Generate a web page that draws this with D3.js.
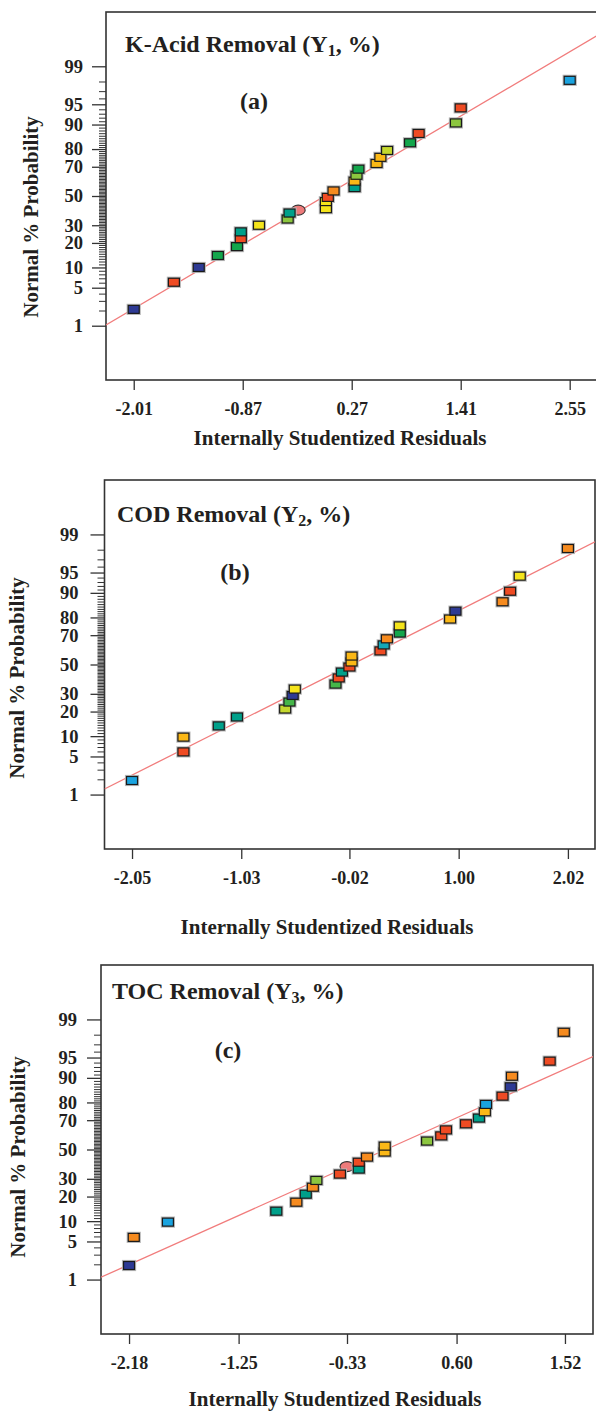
<!DOCTYPE html>
<html>
<head>
<meta charset="utf-8">
<script src="https://d3js.org/d3.v7.min.js"></script>
<style>
  body { margin: 0; background: #fff; }
  svg text { font-family: "Liberation Serif", "Times New Roman", serif; font-weight: bold; fill: #231f20; }
</style>
</head>
<body>
<svg id="chart" width="596" height="1412"></svg>
<script>
// labelled probability ticks (normal % probability axis)
const probTicks = [1, 5, 10, 20, 30, 50, 70, 80, 90, 95, 99];

// (a) K-Acid removal
const kacidTicks = [-2.01, -0.87, 0.27, 1.41, 2.55];
const kacidResid = [-2.01, -1.59, -1.33, -1.13, -0.93, -0.89, -0.89, -0.70, -0.40, -0.38, 0.00, 0.00, 0.02, 0.08, 0.30, 0.30, 0.32, 0.34, 0.53, 0.57, 0.64, 0.88, 0.97, 1.36, 1.41, 2.55];
const kacidProb = [2.1, 6.1, 10, 14.3, 18.2, 22.2, 26, 30, 34, 38, 41, 46, 49, 53.6, 56, 60.5, 64.5, 68.5, 72, 75.6, 79.3, 83, 86.9, 90.5, 94.3, 98.1];
const kacidLevel = ["navy", "red", "navy", "green", "green", "red", "teal", "yellow", "leaf", "teal", "yellow", "yellow", "red", "orange", "teal", "gold", "leaf", "green", "gold", "gold", "lime", "green", "red", "leaf", "red", "sky"];
const kacidCentre = [-0.29, 40];
const kacidFit = [1.01, 0.01];

// (b) COD removal
const codTicks = [-2.05, -1.03, -0.02, 1.00, 2.02];
const codResid = [-2.05, -1.57, -1.57, -1.24, -1.07, -0.62, -0.58, -0.55, -0.53, -0.15, -0.12, -0.09, -0.02, 0.00, 0.00, 0.27, 0.30, 0.33, 0.45, 0.45, 0.92, 0.97, 1.41, 1.48, 1.57, 2.02];
const codProb = [1.9, 5.9, 9.7, 13.6, 17.4, 21.3, 25.1, 29, 33, 36.3, 40.5, 44.6, 48.2, 51.8, 56, 59.6, 63.7, 67.7, 71.3, 75.5, 79.2, 83, 86.9, 90.5, 94.3, 98.1];
const codLevel = ["sky", "red", "gold", "teal", "teal", "lime", "grass", "navy", "yellow", "grass", "red", "teal", "red", "gold", "gold", "red", "cyan", "orange", "green", "yellow", "gold", "navy", "orange", "red", "yellow", "orange"];
const codFit = [0.965, 0.0];

// (c) TOC removal
const tocTicks = [-2.18, -1.25, -0.33, 0.60, 1.52];
const tocResid = [-2.18, -2.14, -1.85, -0.93, -0.76, -0.68, -0.62, -0.59, -0.39, -0.23, -0.23, -0.16, -0.01, -0.01, 0.35, 0.47, 0.51, 0.68, 0.79, 0.84, 0.85, 0.99, 1.06, 1.07, 1.39, 1.51];
const tocProb = [1.9, 5.8, 9.7, 13.5, 17.3, 21.2, 25, 29, 33, 36.3, 41, 44.6, 48.2, 52.4, 56, 59.6, 63.7, 67.7, 71.3, 75, 79, 83, 86.9, 90.5, 94.3, 98.2];
const tocLevel = ["navy", "orange", "sky", "teal", "orange", "teal", "orange", "leaf", "red", "teal", "red", "orange", "gold", "gold", "leaf", "red", "red", "red", "teal", "gold", "sky", "red", "navy", "orange", "red", "orange"];
const tocCentre = [-0.33, 38];
const tocFit = [0.945, 0.0];

const palette = {
  navy: "#2e3a94", red: "#ef4b23", green: "#14a64c", teal: "#00a08a",
  cyan: "#12a8b8", yellow: "#f5e41b", lime: "#c5d82e", leaf: "#8cc63f",
  grass: "#45b649", orange: "#f68b1f", gold: "#fbb816", sky: "#1aa3df"
};

// inverse normal CDF (Acklam) for the probability axis
function probit(p) {
  const a = [-3.969683028665376e+01, 2.209460984245205e+02, -2.759285104469687e+02, 1.383577518672690e+02, -3.066479806614716e+01, 2.506628277459239e+00];
  const b = [-5.447609879822406e+01, 1.615858368580409e+02, -1.556989798598866e+02, 6.680131188771972e+01, -1.328068155288572e+01];
  const c = [-7.784894002430293e-03, -3.223964580411365e-01, -2.400758277161838e+00, -2.549732539343734e+00, 4.374664141464968e+00, 2.938163982698783e+00];
  const d = [7.784695709041462e-03, 3.224671290700398e-01, 2.445134137142996e+00, 3.754408661907416e+00];
  const pl = 0.02425;
  let q, r;
  if (p < pl) {
    q = Math.sqrt(-2 * Math.log(p));
    return (((((c[0]*q+c[1])*q+c[2])*q+c[3])*q+c[4])*q+c[5]) / ((((d[0]*q+d[1])*q+d[2])*q+d[3])*q+1);
  }
  if (p <= 1 - pl) {
    q = p - 0.5; r = q * q;
    return (((((a[0]*r+a[1])*r+a[2])*r+a[3])*r+a[4])*r+a[5])*q / (((((b[0]*r+b[1])*r+b[2])*r+b[3])*r+b[4])*r+1);
  }
  q = Math.sqrt(-2 * Math.log(1 - p));
  return -(((((c[0]*q+c[1])*q+c[2])*q+c[3])*q+c[4])*q+c[5]) / ((((d[0]*q+d[1])*q+d[2])*q+d[3])*q+1);
}

const minorProb = d3.range(2, 99).filter(p => !probTicks.includes(p));
const fmt = d3.format(".2f");
const svg = d3.select("#chart");

function drawPanel(cfg) {
  const x = d3.scaleLinear().domain(cfg.xDomain).range([cfg.left, cfg.right]);
  const y = d3.scaleLinear().domain([-3.3, 3.3]).range([cfg.bottom, cfg.top]);
  const g = svg.append("g");

  const clipId = "clip-" + cfg.tag;
  svg.append("clipPath").attr("id", clipId)
    .append("rect")
    .attr("x", cfg.left).attr("y", cfg.top)
    .attr("width", cfg.right - cfg.left).attr("height", cfg.bottom - cfg.top);

  // minor probability ticks
  const minorAxis = d3.axisLeft(y)
    .tickValues(minorProb.map(p => probit(p / 100)))
    .tickSize(7).tickSizeOuter(0).tickFormat("");
  g.append("g").attr("transform", `translate(${cfg.left},0)`).call(minorAxis)
    .call(s => s.select(".domain").remove())
    .call(s => s.selectAll("line").attr("stroke", "#333"));

  // major probability ticks
  const yAxis = d3.axisLeft(y)
    .tickValues(probTicks.map(p => probit(p / 100)))
    .tickSize(14).tickSizeOuter(0).tickPadding(cfg.yPad)
    .tickFormat((d, i) => probTicks[i]);
  g.append("g").attr("transform", `translate(${cfg.left},0)`).call(yAxis)
    .call(s => s.select(".domain").remove())
    .call(s => s.selectAll("line").attr("stroke", "#333").attr("stroke-width", 1.3))
    .call(s => s.selectAll("text").attr("font-size", 18.5).attr("font-family", null));

  // residual axis (plain hyphen for negatives, as in the figure)
  const xAxis = d3.axisBottom(x)
    .tickValues(cfg.ticks).tickSize(10).tickSizeOuter(0).tickPadding(12)
    .tickFormat(d => fmt(d).replace("\u2212", "-"));
  g.append("g").attr("transform", `translate(0,${cfg.bottom})`).call(xAxis)
    .call(s => s.select(".domain").remove())
    .call(s => s.selectAll("line").attr("stroke", "#333").attr("stroke-width", 1.3))
    .call(s => s.selectAll("text").attr("font-size", 18).attr("font-family", null));

  // frame
  g.append("rect")
    .attr("x", cfg.left).attr("y", cfg.top)
    .attr("width", cfg.right - cfg.left).attr("height", cfg.bottom - cfg.top)
    .attr("fill", "none").attr("stroke", "#333").attr("stroke-width", 1.6);

  // fitted normal line
  const plot = g.append("g").attr("clip-path", `url(#${clipId})`);
  const ends = cfg.xDomain.map(v => [v, cfg.fit[0] * v + cfg.fit[1]]);
  plot.append("line")
    .attr("x1", x(ends[0][0])).attr("y1", y(ends[0][1]))
    .attr("x2", x(ends[1][0])).attr("y2", y(ends[1][1]))
    .attr("stroke", "#f17c7c").attr("stroke-width", 1.3);

  const pts = cfg.resid.map((r, i) => ({ r, p: cfg.prob[i], c: palette[cfg.level[i]] }));

  if (cfg.centre) {
    plot.append("ellipse")
      .attr("cx", x(cfg.centre[0])).attr("cy", y(probit(cfg.centre[1] / 100)))
      .attr("rx", 7).attr("ry", 5)
      .attr("fill", "#ee7b7b").attr("stroke", "#333").attr("stroke-width", 1.1);
  }

  const w = 11, h = 8;
  plot.selectAll(".halo").data(pts).join("rect").attr("class", "halo")
    .attr("x", d => x(d.r) - w / 2).attr("y", d => y(probit(d.p / 100)) - h / 2)
    .attr("width", w).attr("height", h)
    .attr("fill", "none").attr("stroke", "#b8b8b8").attr("stroke-width", 3.2);
  plot.selectAll(".pt").data(pts).join("rect").attr("class", "pt")
    .attr("x", d => x(d.r) - w / 2).attr("y", d => y(probit(d.p / 100)) - h / 2)
    .attr("width", w).attr("height", h)
    .attr("fill", d => d.c).attr("stroke", "#1a1a1a").attr("stroke-width", 1.2);

  // titles
  const t = g.append("text").attr("x", cfg.left + cfg.titleDx).attr("y", cfg.top + cfg.titleDy)
    .attr("font-size", 24);
  t.append("tspan").text(cfg.title + " (Y");
  t.append("tspan").attr("font-size", 16).attr("dy", 4).text(cfg.sub);
  t.append("tspan").attr("dy", -4).text(", %)");

  g.append("text").attr("x", cfg.tagX).attr("y", cfg.top + cfg.tagDy)
    .attr("text-anchor", "middle").attr("font-size", 24).text("(" + cfg.tag + ")");

  g.append("text").attr("x", cfg.xTitleX).attr("y", cfg.xTitleY)
    .attr("text-anchor", "middle").attr("font-size", 21)
    .text("Internally Studentized Residuals");

  g.append("text")
    .attr("transform", `translate(${cfg.yTitleX},${cfg.yTitleY}) rotate(-90)`)
    .attr("text-anchor", "middle").attr("font-size", 21)
    .text("Normal % Probability");
}

drawPanel({
  tag: "a", title: "K-Acid Removal", sub: "1",
  left: 106, right: 600, top: 12, bottom: 380,
  xDomain: [-2.30, 2.867], ticks: kacidTicks, yPad: 9,
  resid: kacidResid, prob: kacidProb, level: kacidLevel, centre: kacidCentre, fit: kacidFit,
  titleDx: 19, titleDy: 40, tagX: 254, tagDy: 97,
  xTitleX: 340, xTitleY: 445, yTitleX: 38, yTitleY: 217
});

drawPanel({
  tag: "b", title: "COD Removal", sub: "2",
  left: 104.5, right: 595, top: 480, bottom: 849,
  xDomain: [-2.307, 2.273], ticks: codTicks, yPad: 12,
  resid: codResid, prob: codProb, level: codLevel, centre: null, fit: codFit,
  titleDx: 12.5, titleDy: 42, tagX: 235, tagDy: 100,
  xTitleX: 327, xTitleY: 934, yTitleX: 24, yTitleY: 678
});

drawPanel({
  tag: "c", title: "TOC Removal", sub: "3",
  left: 101, right: 593, top: 965, bottom: 1334,
  xDomain: [-2.418, 1.758], ticks: tocTicks, yPad: 10,
  resid: tocResid, prob: tocProb, level: tocLevel, centre: tocCentre, fit: tocFit,
  titleDx: 11, titleDy: 34, tagX: 228, tagDy: 93,
  xTitleX: 335, xTitleY: 1406, yTitleX: 25, yTitleY: 1157
});
</script>
</body>
</html>
